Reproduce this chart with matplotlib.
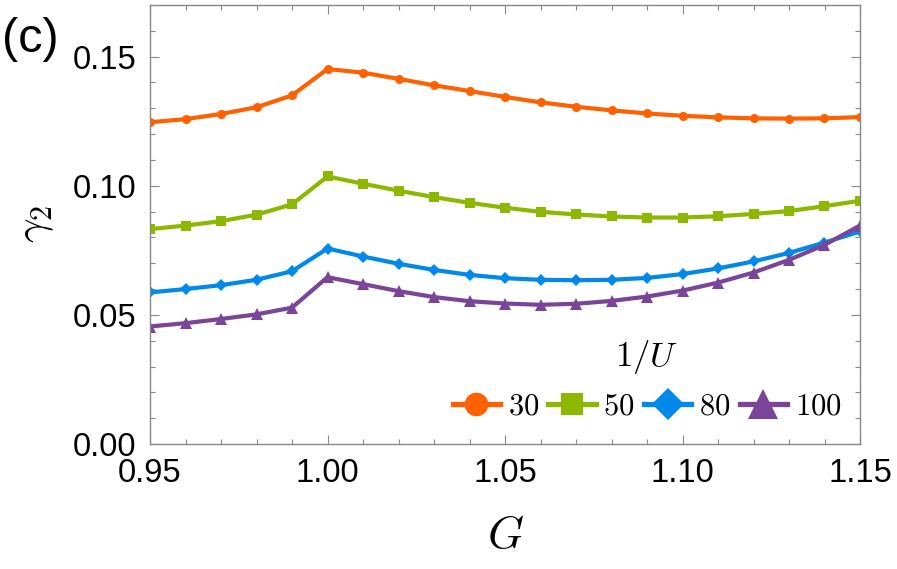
import numpy as np
import matplotlib
matplotlib.use("Agg")
import matplotlib.pyplot as plt
from matplotlib.lines import Line2D

plt.rcParams['mathtext.fontset'] = 'cm'
plt.rcParams['font.family'] = ['Liberation Sans', 'DejaVu Sans']

# data
G = [0.95, 0.96, 0.97, 0.98, 0.99, 1.00, 1.01, 1.02, 1.03, 1.04, 1.05,
     1.06, 1.07, 1.08, 1.09, 1.10, 1.11, 1.12, 1.13, 1.14, 1.15]

gamma_30 = [0.1246, 0.1258, 0.1278, 0.1304, 0.1350, 0.1452, 0.1438, 0.1414,
            0.1389, 0.1367, 0.1344, 0.1323, 0.1306, 0.1292, 0.1280, 0.1271,
            0.1265, 0.1261, 0.1260, 0.1261, 0.1266]
gamma_50 = [0.0832, 0.0846, 0.0863, 0.0888, 0.0928, 0.1036, 0.1008, 0.0981,
            0.0956, 0.0934, 0.0915, 0.0899, 0.0889, 0.0881, 0.0877, 0.0877,
            0.0882, 0.0891, 0.0902, 0.0921, 0.0942]
gamma_80 = [0.0587, 0.0600, 0.0615, 0.0636, 0.0669, 0.0757, 0.0726, 0.0698,
            0.0674, 0.0655, 0.0642, 0.0636, 0.0634, 0.0636, 0.0643, 0.0658,
            0.0680, 0.0707, 0.0740, 0.0780, 0.0823]
gamma_100 = [0.0455, 0.0468, 0.0484, 0.0502, 0.0528, 0.0646, 0.0619, 0.0592,
             0.0569, 0.0553, 0.0544, 0.0539, 0.0543, 0.0554, 0.0571, 0.0594,
             0.0625, 0.0664, 0.0713, 0.0771, 0.0846]

labels = ['30', '50', '80', '100']
colors = ['#FF6000', '#8DB800', '#0088EA', '#7A4598']
markers = ['o', 's', 'D', '^']
msizes = [6.5, 6.5, 6.5, 8]
leg_msizes = [17, 16, 16, 22]

fig = plt.figure(figsize=(8.97, 5.69), dpi=100)
ax = fig.add_axes([150/897, 1 - 444/569, 710/897, 439/569])

series = [gamma_30, gamma_50, gamma_80, gamma_100]
for y, c, m, ms in zip(series, colors, markers, msizes):
    ax.plot(G, y, color=c, marker=m, markersize=ms, lw=3, mew=0)

ax.set_xlim(0.95, 1.15)
ax.set_ylim(0, 0.17)
ax.set_xticks([0.95, 1.00, 1.05, 1.10, 1.15])
ax.set_xticklabels(['0.95', '1.00', '1.05', '1.10', '1.15'])
ax.set_yticks([0.00, 0.05, 0.10, 0.15])
ax.set_yticklabels(['0.00', '0.05', '0.10', '0.15'])
ax.set_xticks(np.arange(0.95, 1.1501, 0.01), minor=True)
ax.set_yticks(np.arange(0, 0.1701, 0.01), minor=True)

for s in ax.spines.values():
    s.set_color('#888888')
    s.set_linewidth(1.0)
ax.tick_params(which='both', direction='in', top=True, right=True,
               color='#888888', width=0.8, labelsize=23.5)
ax.tick_params(which='major', length=6.5, pad=10)
ax.tick_params(which='minor', length=3.5)

ax.set_xlabel('$G$', fontsize=33, labelpad=18)
ax.set_ylabel(r'$\gamma_2$', fontsize=31, labelpad=12)

fig.text(0.002, 1 - 40/569, '(c)', fontsize=35, va='center', ha='left')

handles = [Line2D([], [], color=c, marker=m, markersize=ms, lw=3.8, mew=0)
           for c, m, ms in zip(colors, markers, leg_msizes)]
leg = ax.legend(handles, ['$%s$' % l for l in labels], title='$1/U$',
                ncol=4, frameon=False, fontsize=22, title_fontsize=25,
                handlelength=1.55, handletextpad=0.25, columnspacing=0.3,
                loc='center', bbox_to_anchor=(647/897, 1 - 380/569),
                bbox_transform=fig.transFigure, borderpad=0, labelspacing=0.5)

fig.savefig('out.png', dpi=100)
